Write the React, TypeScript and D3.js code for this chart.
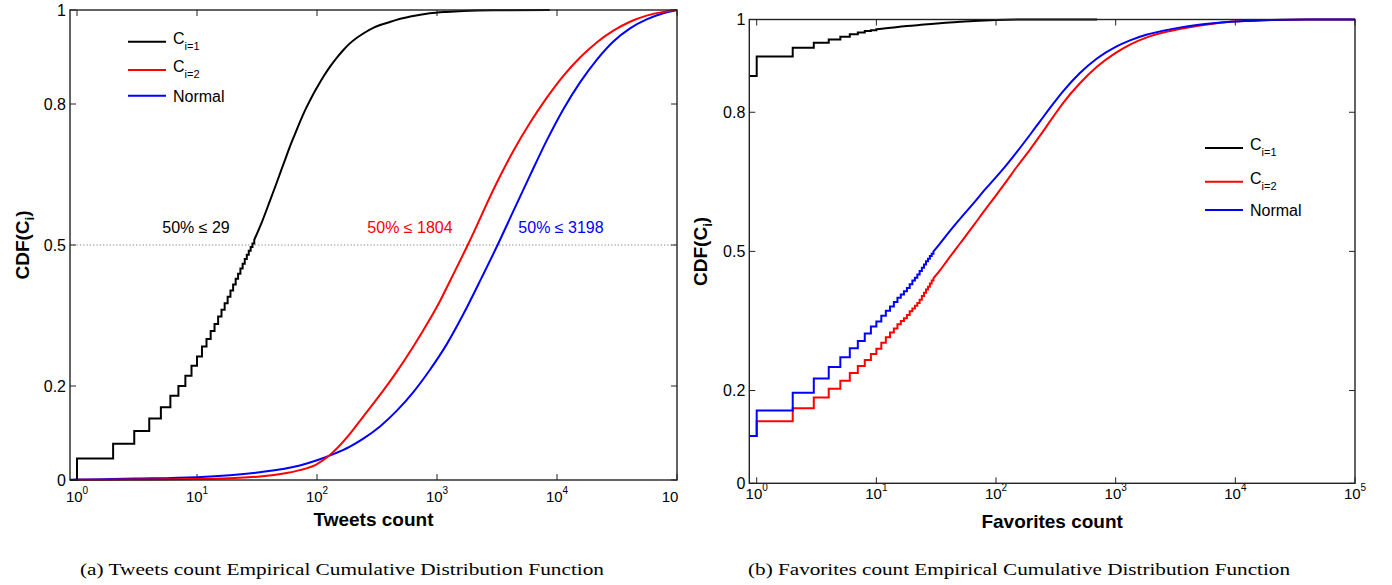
import React from "react";
import * as d3 from "d3";

// ---------- DATA ----------
// Tweets count panel (a)
const TW_BLACK_X = [0, 1, 2, 3, 4, 5, 6, 7, 8, 9, 10, 11, 12, 13, 14, 15, 16, 17, 18, 19, 20, 21, 22, 23, 24, 25, 26, 27, 28, 29, 30,
  35, 40, 45, 50, 55, 60, 65, 70, 80, 90, 100, 115, 128, 150, 166, 188, 243, 300, 400, 461, 600, 871, 1200, 1660, 3000, 8700];
const TW_BLACK_Y = [0, 0.046, 0.077, 0.104, 0.131, 0.155, 0.179, 0.2, 0.222, 0.243, 0.263, 0.284, 0.3, 0.317, 0.332, 0.348, 0.362, 0.376, 0.39, 0.403, 0.416, 0.428, 0.439, 0.45, 0.46, 0.47, 0.479, 0.488, 0.496, 0.503, 0.511,
  0.551, 0.59, 0.625, 0.657, 0.686, 0.712, 0.734, 0.754, 0.788, 0.814, 0.835, 0.861, 0.879, 0.902, 0.915, 0.929, 0.95, 0.963, 0.974, 0.979, 0.986, 0.993, 0.996, 0.998, 0.9995, 1.0];

const TW_RED_X = [0, 1, 3, 10, 32, 56, 72, 100, 128, 177, 243, 335, 461, 635, 871, 1060, 1280, 1804, 3141, 4325, 5960, 8200, 11300, 15560, 21430, 29500, 40600, 55850, 76900, 100000];
const TW_RED_Y = [0, 0.0004, 0.001, 0.002, 0.007, 0.015, 0.021, 0.034, 0.053, 0.09, 0.135, 0.181, 0.23, 0.284, 0.342, 0.381, 0.423, 0.5, 0.632, 0.7, 0.76, 0.813, 0.86, 0.899, 0.931, 0.956, 0.975, 0.988, 0.996, 1.0];

const TW_BLUE_X = [0, 1, 3, 10, 32, 72, 100, 137, 188, 243, 335, 461, 635, 871, 1200, 1660, 2350, 3198, 4325, 5960, 8200, 11300, 15560, 21430, 29500, 40600, 55850, 76900, 100000];
const TW_BLUE_Y = [0.0005, 0.001, 0.003, 0.006, 0.016, 0.031, 0.042, 0.055, 0.071, 0.088, 0.114, 0.147, 0.187, 0.234, 0.288, 0.353, 0.43, 0.5, 0.572, 0.648, 0.722, 0.789, 0.846, 0.894, 0.933, 0.961, 0.98, 0.993, 1.0];

// Favorites count panel (b)
const FAV_X = [0, 1, 2, 3, 4, 5, 6, 7, 8, 9, 10, 11, 12, 13, 14, 15, 16, 17, 18, 19, 20, 21, 22, 23, 24, 25, 26, 27, 28, 29, 30,
  34, 40, 50, 65, 80, 100, 122, 150, 193, 234, 300, 366, 500, 697, 1000, 1318, 1800, 2500, 3500, 4770, 6500, 9100, 13000, 20000, 40000, 100000];
const FAV_BLUE_Y = [0.102, 0.157, 0.195, 0.226, 0.251, 0.272, 0.291, 0.307, 0.323, 0.338, 0.349, 0.361, 0.372, 0.381, 0.391, 0.4, 0.407, 0.414, 0.421, 0.429, 0.437, 0.443, 0.45, 0.458, 0.465, 0.472, 0.479, 0.484, 0.49, 0.495, 0.5,
  0.517, 0.54, 0.57, 0.604, 0.632, 0.66, 0.686, 0.715, 0.752, 0.781, 0.818, 0.846, 0.884, 0.916, 0.941, 0.955, 0.967, 0.976, 0.983, 0.988, 0.992, 0.995, 0.997, 0.999, 1.0, 1.0];
const FAV_RED_Y = [0.102, 0.134, 0.162, 0.185, 0.204, 0.221, 0.238, 0.253, 0.266, 0.279, 0.29, 0.303, 0.315, 0.325, 0.334, 0.343, 0.35, 0.356, 0.363, 0.371, 0.377, 0.383, 0.389, 0.396, 0.404, 0.411, 0.418, 0.424, 0.431, 0.437, 0.442,
  0.459, 0.484, 0.517, 0.556, 0.588, 0.621, 0.651, 0.683, 0.72, 0.75, 0.79, 0.821, 0.862, 0.898, 0.928, 0.946, 0.961, 0.972, 0.98, 0.986, 0.991, 0.995, 0.997, 0.999, 1.0, 1.0];
const FAV_BLACK_X = [0, 1, 2, 3, 4, 5, 6, 7, 8, 9, 10, 12, 14, 18, 25, 34, 50, 65, 100, 200, 700];
const FAV_BLACK_Y = [0.878, 0.92, 0.939, 0.95, 0.957, 0.963, 0.968, 0.972, 0.975, 0.977, 0.979, 0.981, 0.983, 0.986, 0.989, 0.992, 0.995, 0.997, 0.999, 1.0, 1.0];

const Y_TICKS = [0, 0.2, 0.5, 0.8, 1];
const Y_TICK_LABELS = ["0", "0.2", "0.5", "0.8", "1"];
const X_TICK_EXPS = [0, 1, 2, 3, 4, 5];
const LEGEND_LABELS = [
  { base: "C", sub: "i=1", color: "#000000" },
  { base: "C", sub: "i=2", color: "#ff0000" },
  { base: "Normal", sub: "", color: "#0000ff" },
];
const TW_ANNOTATIONS = [
  { text: "50% \u2264 29", color: "#000000" },
  { text: "50% \u2264 1804", color: "#ff0000" },
  { text: "50% \u2264 3198", color: "#0000ff" },
];
const TW_ANNOTATION_CX = [196, 410, 561];

const SANS = "'Liberation Sans', Arial, Helvetica, sans-serif";
const SERIF = "'Liberation Serif', 'Times New Roman', serif";

type Series = { xs: number[]; ys: number[]; color: string; stepUntil: number };

function makePath(s: Series, xScale: any, yScale: any, xMin: number) {
  const pts = s.xs.map((x, i) => [x === 0 ? xMin : x, s.ys[i], x] as [number, number, number]);
  const stepPts = pts.filter((p) => p[2] <= s.stepUntil);
  const smoothPts = pts.filter((p) => p[2] >= s.stepUntil);
  const stepLine = d3.line<[number, number, number]>().x((p) => xScale(p[0])).y((p) => yScale(p[1])).curve(d3.curveStepAfter);
  const smoothLine = d3.line<[number, number, number]>().x((p) => xScale(p[0])).y((p) => yScale(p[1])).curve(d3.curveMonotoneX);
  let d = "";
  if (stepPts.length > 1) d += stepLine(stepPts) || "";
  if (smoothPts.length > 1) {
    const sd = smoothLine(smoothPts) || "";
    d += d ? sd.replace(/^M/, "L") : sd;
  }
  return d;
}

type PanelProps = {
  id: string;
  left: number; right: number; top: number; bottom: number;
  x0px: number;
  series: Series[];
  legendX: number; legendY: number[];
  xLabel: string; xLabelY: number; tickLabelY: number;
  yLabelX: number;
  lastLabelPlain: boolean;
  annotations?: boolean;
};

function Panel(p: PanelProps) {
  const dec = (p.right - p.x0px) / 5;
  const xMin = Math.pow(10, -(p.x0px - p.left) / dec);
  const x = d3.scaleLog().domain([xMin, 1e5]).range([p.left, p.right]);
  const y = d3.scaleLinear().domain([0, 1]).range([p.bottom, p.top]);
  const tickLen = 6;
  const clipId = "clip-" + p.id;
  return (
    <g>
      <defs>
        <clipPath id={clipId}>
          <rect x={p.left - 1} y={p.top - 2} width={p.right - p.left + 2} height={p.bottom - p.top + 3} />
        </clipPath>
      </defs>
      {p.annotations && (
        <line x1={p.left} x2={p.right} y1={y(0.5)} y2={y(0.5)} stroke="#8a8a8a" strokeWidth={1.2} strokeDasharray="1.3 2" />
      )}
      {Y_TICKS.map((t, i) => (
        <g key={"yt" + i}>
          <line x1={p.left} x2={p.left + tickLen} y1={y(t)} y2={y(t)} stroke="#222" strokeWidth={1} />
          <line x1={p.right} x2={p.right - tickLen} y1={y(t)} y2={y(t)} stroke="#222" strokeWidth={1} />
          <text x={p.left - 4} y={y(t)} dy="0.36em" textAnchor="end" fontFamily={SANS} fontSize={16} fill="#000">{Y_TICK_LABELS[i]}</text>
        </g>
      ))}
      {X_TICK_EXPS.map((e, i) => {
        const xv = x(Math.pow(10, e));
        const plain = p.lastLabelPlain && i === X_TICK_EXPS.length - 1;
        return (
          <g key={"xt" + i}>
            <line x1={xv} x2={xv} y1={p.bottom} y2={p.bottom - tickLen} stroke="#222" strokeWidth={1} />
            <line x1={xv} x2={xv} y1={p.top} y2={p.top + tickLen} stroke="#222" strokeWidth={1} />
            {plain ? (
              <text x={xv - 7} y={p.tickLabelY} textAnchor="middle" fontFamily={SANS} fontSize={15}>10</text>
            ) : (
              <text x={xv} y={p.tickLabelY} textAnchor="middle" fontFamily={SANS} fontSize={15}>
                10<tspan dy={-8} fontSize={10}>{e}</tspan>
              </text>
            )}
          </g>
        );
      })}
      <g clipPath={`url(#${clipId})`}>
        {p.series.map((s, i) => (
          <path key={"s" + i} d={makePath(s, x, y, xMin)} fill="none" stroke={s.color} strokeWidth={2} strokeLinejoin="miter" />
        ))}
      </g>
      <rect x={p.left} y={p.top} width={p.right - p.left} height={p.bottom - p.top} fill="none" stroke="#222" strokeWidth={1.4} />
      {p.annotations && TW_ANNOTATIONS.map((a, i) => (
        <text key={"an" + i} x={TW_ANNOTATION_CX[i]} y={y(0.5) - 12} textAnchor="middle" fontFamily={SANS} fontSize={16} fill={a.color}>{a.text}</text>
      ))}
      {LEGEND_LABELS.map((l, i) => (
        <g key={"lg" + i}>
          <line x1={p.legendX} x2={p.legendX + 38} y1={p.legendY[i]} y2={p.legendY[i]} stroke={l.color} strokeWidth={2} />
          <text x={p.legendX + 45} y={p.legendY[i] + (l.sub ? 2 : 6)} fontFamily={SANS} fontSize={16} fill="#000">
            {l.base}
            {l.sub && <tspan dy={6} fontSize={11}>{l.sub}</tspan>}
          </text>
        </g>
      ))}
      <text x={(p.left + p.right) / 2} y={p.xLabelY} textAnchor="middle" fontFamily={SANS} fontWeight="bold" fontSize={19}>{p.xLabel}</text>
      <text transform={`translate(${p.yLabelX},${(p.top + p.bottom) / 2}) rotate(-90)`} textAnchor="middle" fontFamily={SANS} fontWeight="bold" fontSize={19}>
        CDF(C<tspan dy={5} fontSize={13}>i</tspan><tspan dy={-5}>)</tspan>
      </text>
    </g>
  );
}

export default function App() {
  const twSeries: Series[] = [
    { xs: TW_BLUE_X, ys: TW_BLUE_Y, color: "#0000ff", stepUntil: 0 },
    { xs: TW_RED_X, ys: TW_RED_Y, color: "#ff0000", stepUntil: 0 },
    { xs: TW_BLACK_X, ys: TW_BLACK_Y, color: "#000000", stepUntil: 30 },
  ];
  const favSeries: Series[] = [
    { xs: FAV_X, ys: FAV_RED_Y, color: "#ff0000", stepUntil: 30 },
    { xs: FAV_X, ys: FAV_BLUE_Y, color: "#0000ff", stepUntil: 30 },
    { xs: FAV_BLACK_X, ys: FAV_BLACK_Y, color: "#000000", stepUntil: 10 },
  ];
  return (
    <svg width={1392} height={585} style={{ position: "absolute", left: 0, top: 0, background: "#fff" }}>
      <rect x={0} y={0} width={1392} height={585} fill="#fff" />
      <Panel id="a" left={70} right={677} top={10} bottom={480} x0px={77} series={twSeries}
        legendX={128} legendY={[41.7, 70, 95.7]} xLabel="Tweets count" xLabelY={526} tickLabelY={502}
        yLabelX={29} lastLabelPlain={true} annotations={true} />
      <Panel id="b" left={749.3} right={1355} top={19.5} bottom={483.3} x0px={756.7} series={favSeries}
        legendX={1205} legendY={[148, 181.7, 210]} xLabel="Favorites count" xLabelY={528} tickLabelY={499}
        yLabelX={707} lastLabelPlain={false} />
      <text x={342} y={575} textAnchor="middle" fontFamily={SERIF} fontSize={17} textLength={524} lengthAdjust="spacingAndGlyphs">
        (a) Tweets count Empirical Cumulative Distribution Function
      </text>
      <text x={1019} y={575} textAnchor="middle" fontFamily={SERIF} fontSize={17} textLength={542} lengthAdjust="spacingAndGlyphs">
        (b) Favorites count Empirical Cumulative Distribution Function
      </text>
    </svg>
  );
}
